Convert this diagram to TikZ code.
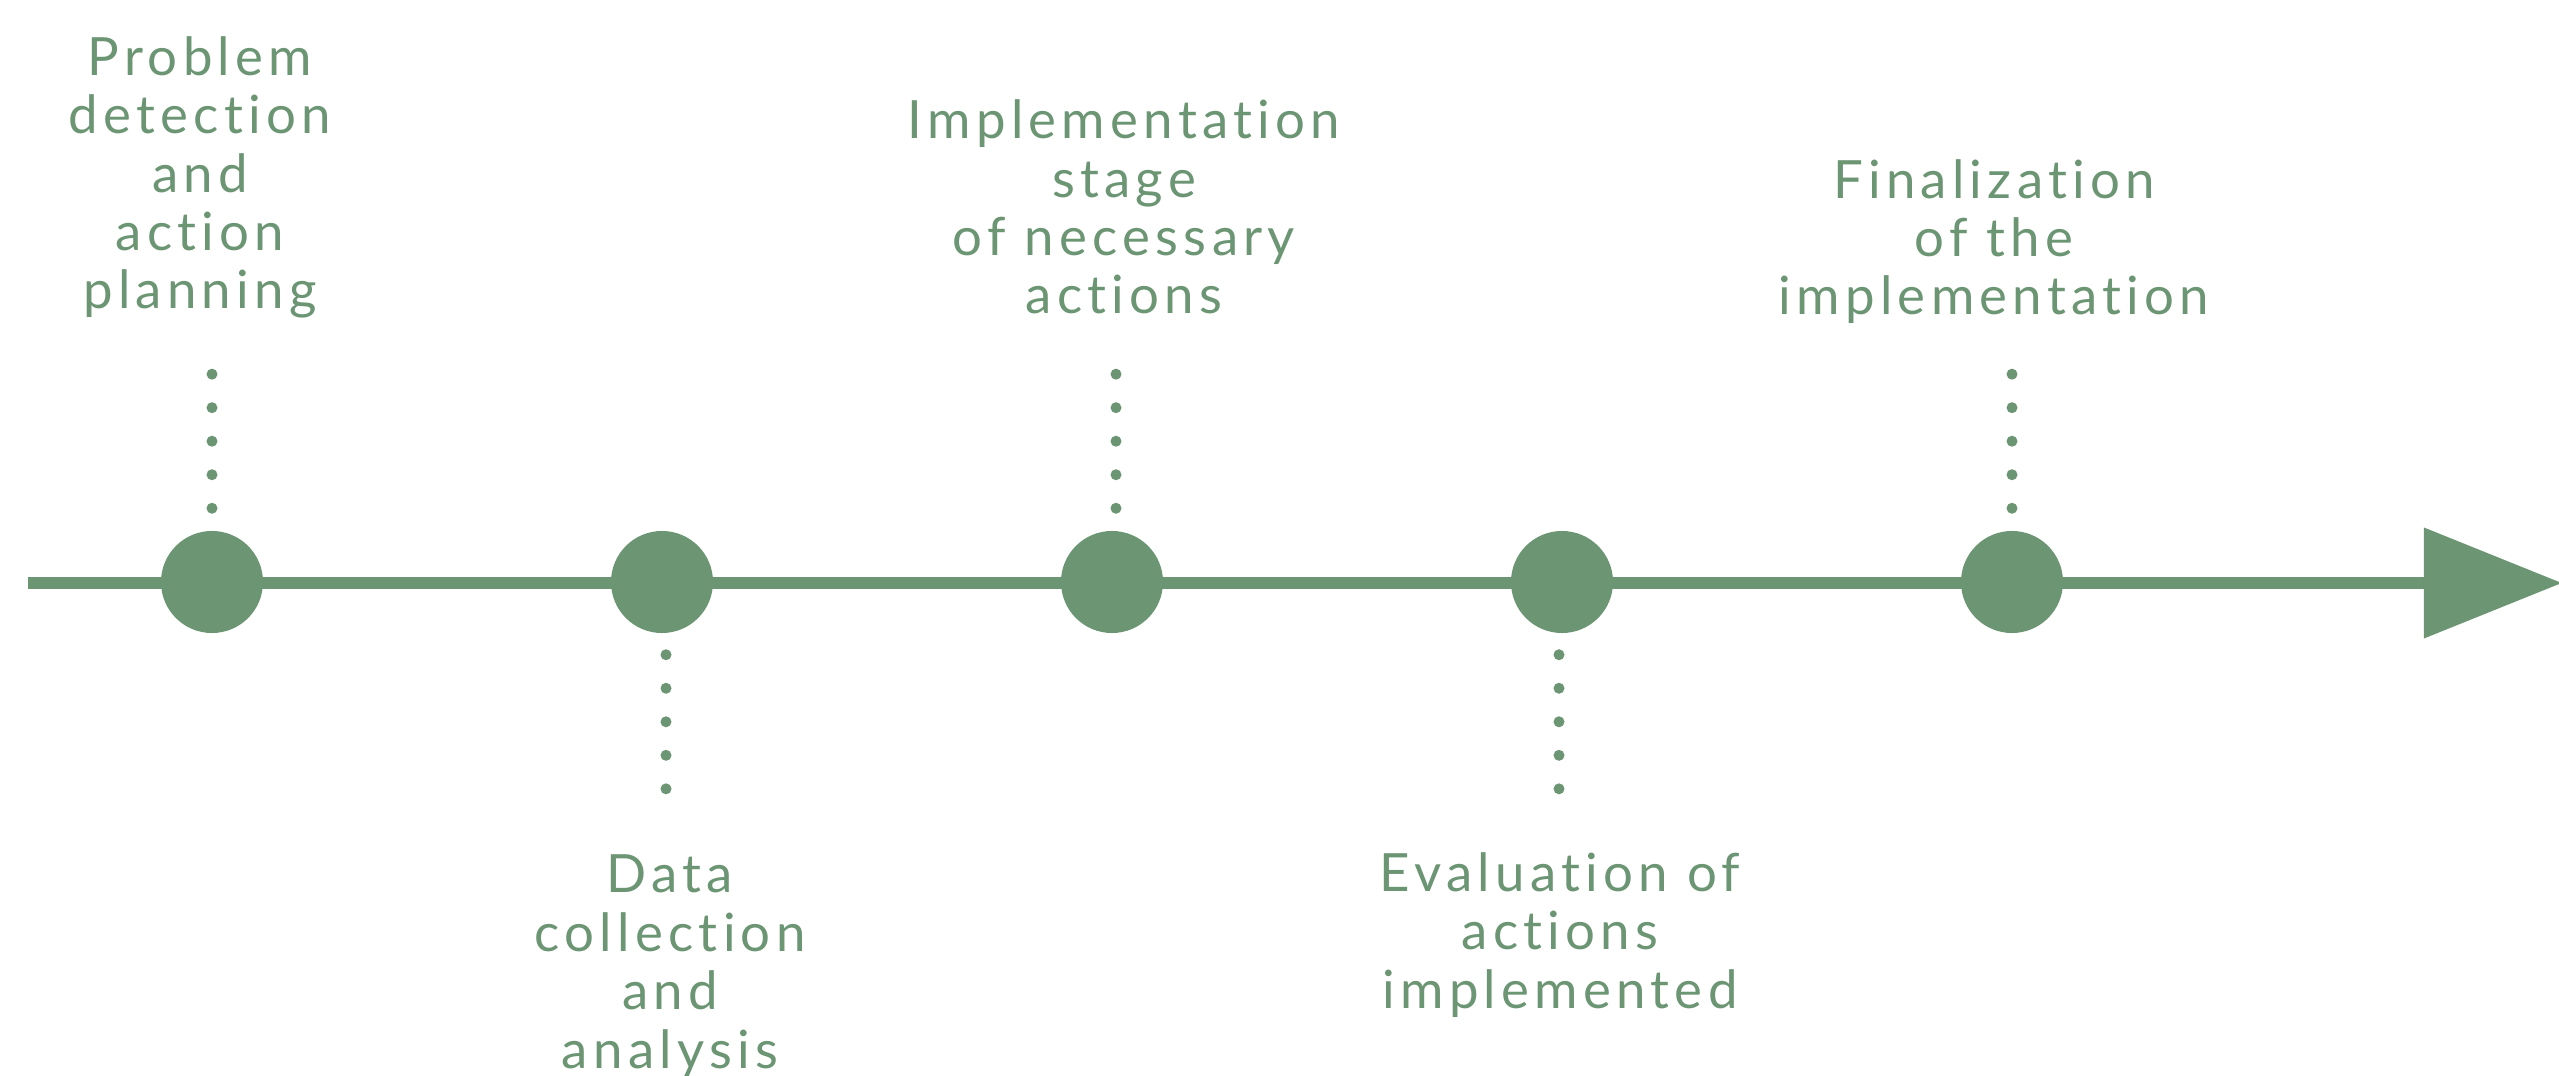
\documentclass[tikz,border=0pt]{standalone}
\usepackage{fontspec}
\setmainfont[LetterSpace=10,Ligatures={NoCommon,NoRequired}]{Lato}
\usetikzlibrary{arrows.meta}
\definecolor{sage}{RGB}{108,149,116}
\begin{document}
\begin{tikzpicture}[x=0.01cm,y=-0.01cm, line join=round,
		font=\fontsize{15}{16.6}\selectfont,
		stage/.style={circle,fill=sage,minimum size=1.02cm,inner sep=0pt},
		dots/.style={draw=sage,line width=0.11cm,line cap=round,dash pattern=on 0pt off 0.335cm},
		steptext/.style={text=sage,align=center,inner sep=0pt,anchor=base}]
	\useasboundingbox (0,0) rectangle (2559,1076);
	\path (28,583) coordinate (start)
		(2562,583) coordinate (end);
	\draw[sage,line width=0.11cm,-{Triangle[length=1.38cm,width=1.08cm]}] (start)--(end);
	\foreach \i/\x in {1/212,2/662,3/1112,4/1562,5/2012}
		\node[stage] (p\i) at (\x,582) {};
	% dotted leaders
	\foreach \i/\d in {1/0,3/4,5/0}{
		\path ([xshift=\d*0.01cm]p\i.north) ++(0,-157) coordinate (t\i);
		\draw[dots] ([xshift=\d*0.01cm,yshift=0.22cm]p\i.north)--(t\i);
	}
	\foreach \i/\d in {2/4,4/-3}{
		\path ([xshift=\d*0.01cm]p\i.south) ++(0,159) coordinate (b\i);
		\draw[dots] ([xshift=\d*0.01cm,yshift=-0.21cm]p\i.south)--(b\i);
	}
	\node[steptext] (s1) at (200,309) {Problem\\detection\\and\\action\\planning};
	\node[steptext] (s2) at (670,1068) {Data\\collection\\and\\analysis};
	\node[steptext] (s3) at (1124,314) {Implementation\\stage\\of necessary\\actions};
	\node[steptext] (s4) at (1560,1008) {Evaluation of\\actions\\implemented};
	\node[steptext] (s5) at (1994,315) {Finalization\\of the\\implementation};
\end{tikzpicture}
\end{document}
